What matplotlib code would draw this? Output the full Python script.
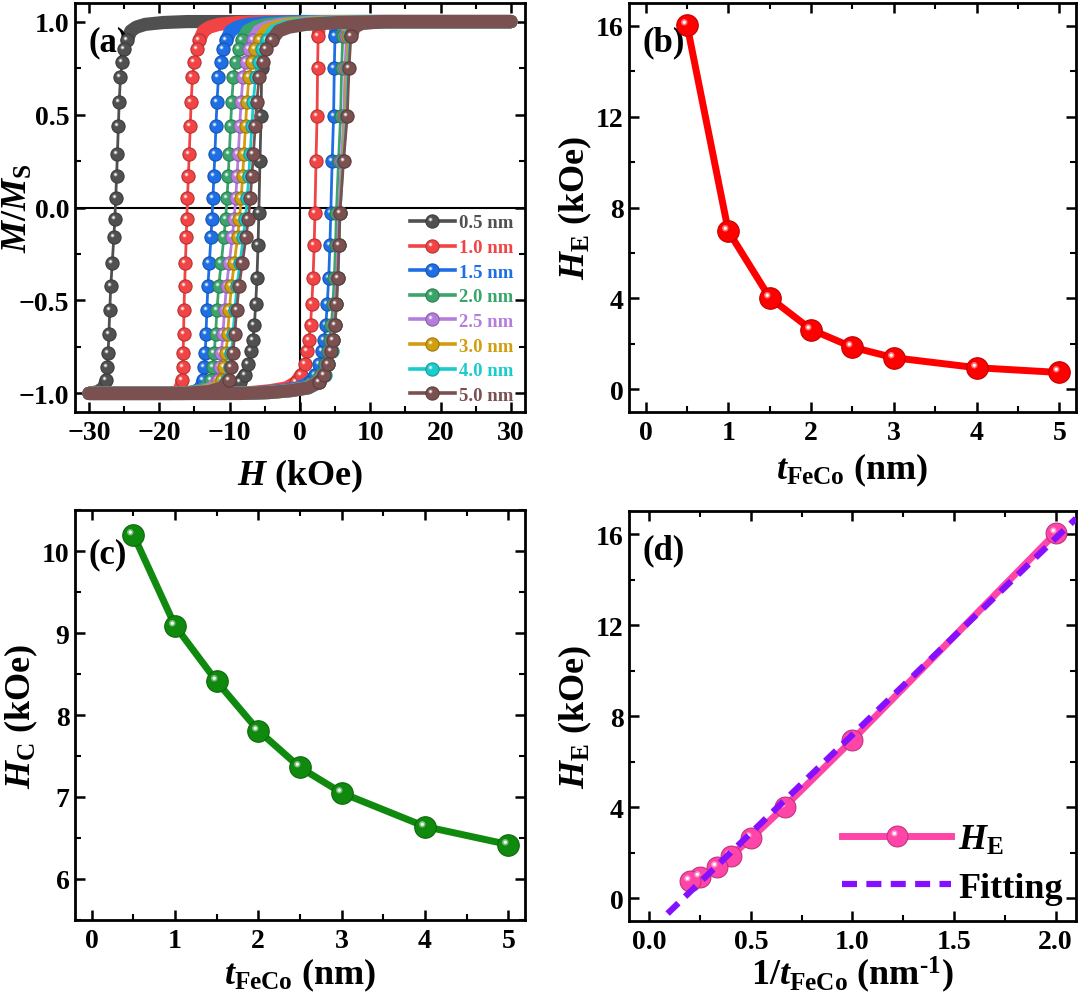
import numpy as np
import matplotlib
matplotlib.use("Agg")
import matplotlib.pyplot as plt
from matplotlib.path import Path
from matplotlib.lines import Line2D
from matplotlib.legend_handler import HandlerTuple
from matplotlib.ticker import MultipleLocator
from matplotlib.colors import to_rgb


# FeCo thickness series
THICKNESS = [0.5, 1.0, 1.5, 2.0, 2.5, 3.0, 4.0, 5.0]
HE = [16.05, 6.96, 4.03, 2.63, 1.85, 1.39, 0.95, 0.74]      # exchange bias (kOe)
HC = [10.20, 9.09, 8.41, 7.81, 7.36, 7.05, 6.64, 6.42]      # coercivity (kOe)
LOOP_LABELS = ['0.5 nm', '1.0 nm', '1.5 nm', '2.0 nm', '2.5 nm', '3.0 nm', '4.0 nm', '5.0 nm']
LOOP_COLORS = ['#505050', '#F24444', '#1E6FE6', '#3AA56A', '#B57EDC', '#D19E0F', '#1ACCCC', '#7B5050']

DESC_U = [12, 8, 5, 3.5, 2.6, 1.95, 1.5, 1.15, 0.85, 0.64, 0.5, 0.34, 0.2, 0.06, -0.08,
          -0.22, -0.45, -0.65, -0.8, -0.92, -1.03, -1.15, -1.3, -1.7, -2.5, -4]
DESC_M = [1.0, 0.995, 0.985, 0.97, 0.95, 0.9, 0.85, 0.78, 0.7, 0.57, 0.44, 0.29, 0.17, 0.05, -0.06,
          -0.16, -0.3, -0.42, -0.55, -0.68, -0.78, -0.86, -0.93, -0.97, -0.99, -1.0]
ASC_U = [-14, -10, -7, -4.5, -3, -2.2, -1.65, -1.2, -0.95, -0.7, -0.5, -0.3, -0.12, 0.0,
         0.2, 0.4, 0.5, 0.6, 0.8, 1.2, 2.5]
ASC_M = [-1.0, -0.995, -0.985, -0.97, -0.94, -0.9, -0.84, -0.77, -0.71, -0.63, -0.52, -0.38, -0.2, -0.03,
         0.25, 0.49, 0.75, 0.92, 0.97, 0.99, 1.0]
# how wide each loop's switching is, relative to the 1.5 nm loop
DESC_UP_W = [0.85, 0.9, 1.0, 1.15, 1.3, 1.4, 1.5, 1.6]
DESC_LO_W = [1.0, 0.55, 1.0, 1.7, 1.9, 2.0, 2.1, 2.3]
ASC_LO_W = [0.9, 0.9, 1.0, 1.0, 1.0, 1.0, 1.0, 1.0]
ASC_UP_W = [0.8, 0.75, 1.0, 1.5, 1.8, 2.0, 2.3, 2.6]

FIT_X = [0.09, 2.10]

plt.rcParams['font.family'] = 'Liberation Serif'
plt.rcParams['font.weight'] = 'bold'
plt.rcParams['axes.labelweight'] = 'bold'
plt.rcParams['mathtext.fontset'] = 'custom'
plt.rcParams['mathtext.rm'] = 'Liberation Serif:bold'
plt.rcParams['mathtext.bf'] = 'Liberation Serif:bold'
plt.rcParams['mathtext.it'] = 'Liberation Serif:italic:bold'
plt.rcParams['axes.linewidth'] = 2


def spot(r, c=0.3):
    # small off-centre circle used as a specular highlight on the ball markers
    circ = Path.circle((-c, c), r)
    verts = np.concatenate([circ.vertices, [[1, 1], [-1, -1]]])
    codes = np.concatenate([circ.codes, [Path.MOVETO, Path.MOVETO]])
    return Path(verts, codes)


SPOT_BIG = spot(0.3)
SPOT_SMALL = spot(0.15)
TUPLE = {tuple: HandlerTuple(ndivide=1, pad=0)}


def darker(c, f=0.75):
    return tuple(v * f for v in to_rgb(c))


def balls(ax, x, y, color, ms, z):
    ax.plot(x, y, ls='none', marker='o', ms=ms, mfc=color, mec=darker(color), mew=0.8, zorder=z)
    ax.plot(x, y, ls='none', marker=SPOT_BIG, ms=ms, color='white', alpha=0.45, mew=0, zorder=z + 0.01)
    ax.plot(x, y, ls='none', marker=SPOT_SMALL, ms=ms, color='white', mew=0, zorder=z + 0.02)


def ball_handle(color, ms, lw):
    return (Line2D([], [], color=color, lw=lw, marker='o', ms=ms, mfc=color, mec=darker(color), mew=0.8),
            Line2D([], [], ls='none', marker=SPOT_BIG, ms=ms, color='white', alpha=0.45, mew=0),
            Line2D([], [], ls='none', marker=SPOT_SMALL, ms=ms, color='white', mew=0))


def style(ax, xmaj, xmin, ymaj, ymin, ylab_x=-0.078):
    ax.xaxis.set_major_locator(MultipleLocator(xmaj))
    ax.xaxis.set_minor_locator(MultipleLocator(xmin))
    ax.yaxis.set_major_locator(MultipleLocator(ymaj))
    ax.yaxis.set_minor_locator(MultipleLocator(ymin))
    ax.tick_params(which='both', direction='in', top=True, right=True, labelsize=20)
    ax.tick_params(which='major', length=7.5, width=1.8)
    ax.tick_params(which='minor', length=4, width=1.5)
    ax.tick_params(axis='x', pad=6)
    ax.tick_params(axis='y', pad=4)
    ax.yaxis.set_label_coords(ylab_x, 0.5)


def panel_tag(ax, s, y=0.905):
    ax.text(0.03, y, s, transform=ax.transAxes, fontsize=25, ha='left', va='center')


fig = plt.figure(figsize=(10.8, 9.95), dpi=100)
ax_a = fig.add_axes([0.0694, 0.5849, 0.4167, 0.4111])
ax_b = fig.add_axes([0.5824, 0.5849, 0.4139, 0.4111])
ax_c = fig.add_axes([0.0694, 0.0744, 0.4167, 0.4120])
ax_d = fig.add_axes([0.5824, 0.0734, 0.4139, 0.4116])

# (a) hysteresis loops
ax_a.axhline(0, color='black', lw=1.5, zorder=1)
ax_a.axvline(0, color='black', lw=1.5, zorder=1)
du, dm = np.array(DESC_U), np.array(DESC_M)
au, am = np.array(ASC_U), np.array(ASC_M)
handles = []
for i, c in enumerate(LOOP_COLORS):
    h_left = -HE[i] - HC[i]
    h_right = -HE[i] + HC[i]
    hd = h_left + np.where(du > 0, du * DESC_UP_W[i], du * DESC_LO_W[i])
    ha = h_right + np.where(au > 0, au * ASC_UP_W[i], au * ASC_LO_W[i])
    hd = np.clip(np.concatenate([[30], hd, [-30]]), -30, 30)
    md = np.concatenate([[1.0], dm, [-1.0]])
    ha = np.clip(np.concatenate([[-30], ha, [30]]), -30, 30)
    ma = np.concatenate([[-1.0], am, [1.0]])
    z = 3 + i
    for h, m in ((hd, md), (ha, ma)):
        band = np.where(np.abs(m) >= 0.9, m, np.nan)
        ax_a.plot(h, band, color=c, lw=9.5, solid_capstyle='round', solid_joinstyle='round', zorder=z)
        ax_a.plot(h, m, color=c, lw=2, zorder=z + 0.05)
        keep = (np.abs(m) < 0.95)
        balls(ax_a, h[keep], m[keep], c, 9.5, z + 0.1)
    handles.append(ball_handle(c, 9.5, 2.6))

leg = ax_a.legend(handles, LOOP_LABELS, handler_map=TUPLE,
                  loc='lower right', bbox_to_anchor=(0.975, 0.02), frameon=False, fontsize=13.5,
                  handlelength=2.4, handletextpad=0.25, labelspacing=0.4, borderpad=0, borderaxespad=0)
for t, c in zip(leg.get_texts(), LOOP_COLORS):
    t.set_color(c)
ax_a.set_xlim(-32, 32)
ax_a.set_ylim(-1.1, 1.1)
style(ax_a, 10, 5, 0.5, 0.25, ylab_x=-0.09)
ax_a.set_xlabel(r'$H$ (kOe)', fontsize=26)
ax_a.xaxis.set_label_coords(0.5, -0.108)
ax_a.set_ylabel(r'$M/M_\mathrm{S}$', fontsize=26)
panel_tag(ax_a, '(a)')

# (b) exchange bias vs thickness
ax_b.plot(THICKNESS, HE, color='#FF0000', lw=5, zorder=3)
balls(ax_b, THICKNESS, HE, '#FF0000', 15.5, 4)
ax_b.set_xlim(-0.2, 5.2)
ax_b.set_ylim(-1, 17)
style(ax_b, 1, 0.5, 4, 2)
ax_b.set_xlabel(r'$t_\mathrm{FeCo}$ (nm)', fontsize=26)
ax_b.xaxis.set_label_coords(0.5, -0.095)
ax_b.set_ylabel(r'$H_\mathrm{E}$ (kOe)', fontsize=26)
panel_tag(ax_b, '(b)')

# (c) coercivity vs thickness
ax_c.plot(THICKNESS, HC, color='#0F8A0F', lw=5, zorder=3)
balls(ax_c, THICKNESS, HC, '#0F8A0F', 15.5, 4)
ax_c.set_xlim(-0.2, 5.2)
ax_c.set_ylim(5.5, 10.5)
style(ax_c, 1, 0.5, 1, 0.5)
ax_c.set_xlabel(r'$t_\mathrm{FeCo}$ (nm)', fontsize=26)
ax_c.xaxis.set_label_coords(0.5, -0.088)
ax_c.set_ylabel(r'$H_\mathrm{C}$ (kOe)', fontsize=26)
panel_tag(ax_c, '(c)', 0.893)

# (d) exchange bias vs inverse thickness with linear fit
inv_t = 1.0 / np.array(THICKNESS)
slope, icpt = np.polyfit(inv_t, HE, 1)
fit_x = np.array(FIT_X)
ax_d.plot(inv_t, HE, color='#FF45A8', lw=5, zorder=3)
balls(ax_d, inv_t, HE, '#FF45A8', 15, 4)
ax_d.plot(fit_x, slope * fit_x + icpt, color='#8410FF', lw=4.5, ls=(0, (2.4, 1.5)), zorder=5)
fit_handle = Line2D([], [], color='#8410FF', lw=4.5, ls=(0, (2.4, 1.5)))
ax_d.legend([ball_handle('#FF45A8', 15, 5), fit_handle], [r'$H_\mathrm{E}$', 'Fitting'],
            handler_map=TUPLE,
            loc='lower right', bbox_to_anchor=(0.97, 0.04), frameon=False, fontsize=26,
            handlelength=3.0, handletextpad=0.2, labelspacing=0.4, borderpad=0, borderaxespad=0)
ax_d.set_xlim(-0.1, 2.1)
ax_d.set_ylim(-1, 17)
style(ax_d, 0.5, 0.25, 4, 2)
ax_d.set_xlabel(r'1/$t_\mathrm{FeCo}$ (nm$^{\text{-1}}$)', fontsize=26)
ax_d.xaxis.set_label_coords(0.5, -0.08)
ax_d.set_ylabel(r'$H_\mathrm{E}$ (kOe)', fontsize=26)
panel_tag(ax_d, '(d)', 0.907)

fig.savefig('out.png', dpi=100)
